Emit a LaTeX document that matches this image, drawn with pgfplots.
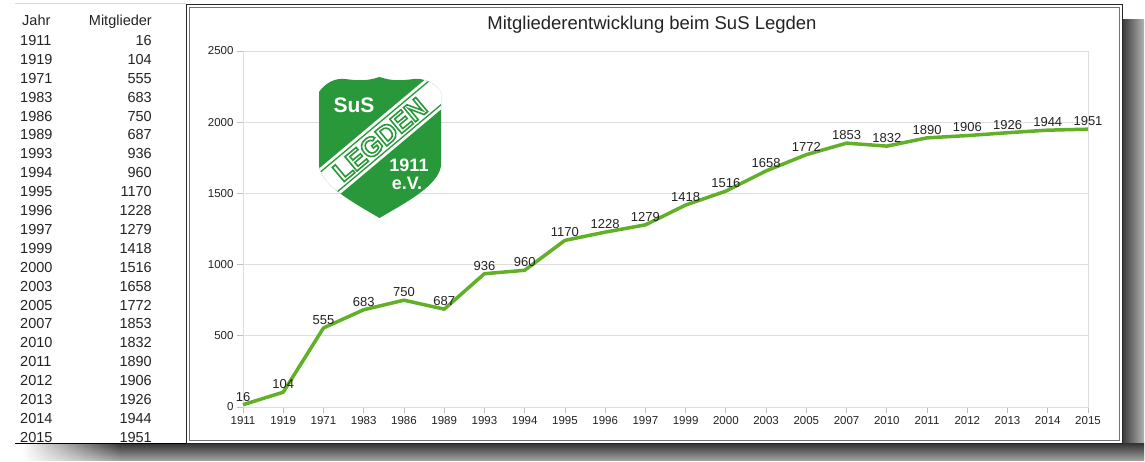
\documentclass[border=0pt]{standalone}
\usepackage{pgfplots}
\pgfplotsset{compat=1.18}
\usetikzlibrary{fadings}
\usepackage{fontspec}
\setmainfont{Liberation Sans}
\definecolor{linegreen}{RGB}{98,176,40}
\definecolor{logogreen}{RGB}{40,152,58}
\definecolor{gridgray}{RGB}{222,222,222}
\definecolor{txt}{RGB}{35,35,35}
\begin{document}
\begin{tikzpicture}
\path[use as bounding box] (0,0) rectangle (1145pt,462pt);
\begin{scope}[x=1pt,y=-1pt,shift={(0pt,462pt)}]
% shadows
\shade[left color=black!78, right color=black!30] (1122,20) rectangle (1144,461);
\shade[top color=black!78, bottom color=black!35] (120,444) rectangle (1144,461);
\shade[top color=black!78, bottom color=black!35, path fading=west] (22,444) rectangle (120.5,461);
% table lines
\draw[black!15, line width=0.6pt] (15,3) -- (186,3);
\draw[black, line width=1.3pt] (15,443.5) -- (187,443.5);
% frame
\fill[white] (187,6) rectangle (1121,442);
\draw[black!85, line width=1.8pt] (186.5,4.5) rectangle (1122.5,443.5);
\draw[black!55, line width=1pt] (189,7.5) rectangle (1119.5,440.5);
% table
\node[anchor=base west, font=\fontsize{14.5}{16}\selectfont, text=txt, inner sep=0pt] at (22,26) {Jahr};
\node[anchor=base east, font=\fontsize{14.5}{16}\selectfont, text=txt, inner sep=0pt] at (152,26) {Mitglieder};
\foreach \yr/\v [count=\i from 0] in {1911/16,1919/104,1971/555,1983/683,1986/750,1989/687,1993/936,1994/960,1995/1170,1996/1228,1997/1279,1999/1418,2000/1516,2003/1658,2005/1772,2007/1853,2010/1832,2011/1890,2012/1906,2013/1926,2014/1944,2015/1951}{
  \node[anchor=base west, font=\fontsize{14.5}{16}\selectfont, text=txt, inner sep=0pt] at (20,{45.5+18.9*\i}) {\yr};
  \node[anchor=base east, font=\fontsize{14.5}{16}\selectfont, text=txt, inner sep=0pt] at (152,{45.5+18.9*\i}) {\v};
}
% title
\node[anchor=base, font=\fontsize{18.5}{21}\selectfont, text=txt] at (652,29.5) {Mitgliederentwicklung beim SuS Legden};
\end{scope}

\begin{axis}[at={(243pt,55pt)}, anchor=south west, scale only axis,
  width=845pt, height=356pt,
  xmin=0, xmax=21, ymin=0, ymax=2500,
  xtick={0,...,21},
  xticklabels={1911,1919,1971,1983,1986,1989,1993,1994,1995,1996,1997,1999,2000,2003,2005,2007,2010,2011,2012,2013,2014,2015},
  ytick={0,500,...,2500},
  ymajorgrids, grid style={gridgray, line width=0.9pt},
  axis line style={gridgray, line width=0.9pt},
  tick style={black!25, line width=0.8pt}, tick align=outside, major tick length=6pt,
  xtick pos=bottom, ytick pos=left,
  ticklabel style={font=\fontsize{11.5}{13}\selectfont, text=txt},
  /pgf/number format/assume math mode=true, /pgf/number format/1000 sep={},
  clip=false]
\addplot[linegreen, line width=3.5pt, line join=round, no marks,
  nodes near coords,
  every node near coord/.append style={font=\fontsize{13}{15}\selectfont, text=txt, inner sep=1.8pt}]
 coordinates {(0,16) (1,104) (2,555) (3,683) (4,750) (5,687) (6,936) (7,960) (8,1170) (9,1228) (10,1279) (11,1418) (12,1516) (13,1658) (14,1772) (15,1853) (16,1832) (17,1890) (18,1906) (19,1926) (20,1944) (21,1951)};
\end{axis}

% logo
\begin{scope}[x=1pt,y=-1pt,shift={(0pt,462pt)}]
\def\shieldpath{(319,92) .. controls (326,82) and (336,78) .. (345,79)
  .. controls (354,80) and (365,82) .. (379.5,77)
  .. controls (394,82) and (405,80) .. (414,79)
  .. controls (423,78) and (434,82) .. (441,92)
  -- (441,166) .. controls (438,186) and (405,203) .. (379.5,218)
  .. controls (354,203) and (322,186) .. (319,166) -- cycle}
\path[fill=logogreen] \shieldpath;
\begin{scope}
\clip \shieldpath;
\node[rotate=40, fill=white, minimum width=210pt, minimum height=33pt, inner sep=0pt] at (380,139) {};
\node[rotate=40, draw=logogreen, line width=1.3pt, minimum width=210pt, minimum height=26pt, inner sep=0pt] at (380,139) {};
\end{scope}
\node[rotate=40, inner sep=0pt, text=logogreen, font=\fontsize{27}{28}\selectfont\bfseries] at (380,139.5) {\special{pdf:literal direct 1 Tr 1.6 w}LEGDEN\special{pdf:literal direct 0 Tr}};
\node[text=white, font=\fontsize{21}{23}\selectfont\bfseries] at (354,105) {SuS};
\node[text=white, font=\fontsize{18}{20}\selectfont\bfseries] at (409,165) {1911};
\node[text=white, font=\fontsize{18}{20}\selectfont\bfseries] at (407,183) {e.V.};
\end{scope}
\end{tikzpicture}
\end{document}
